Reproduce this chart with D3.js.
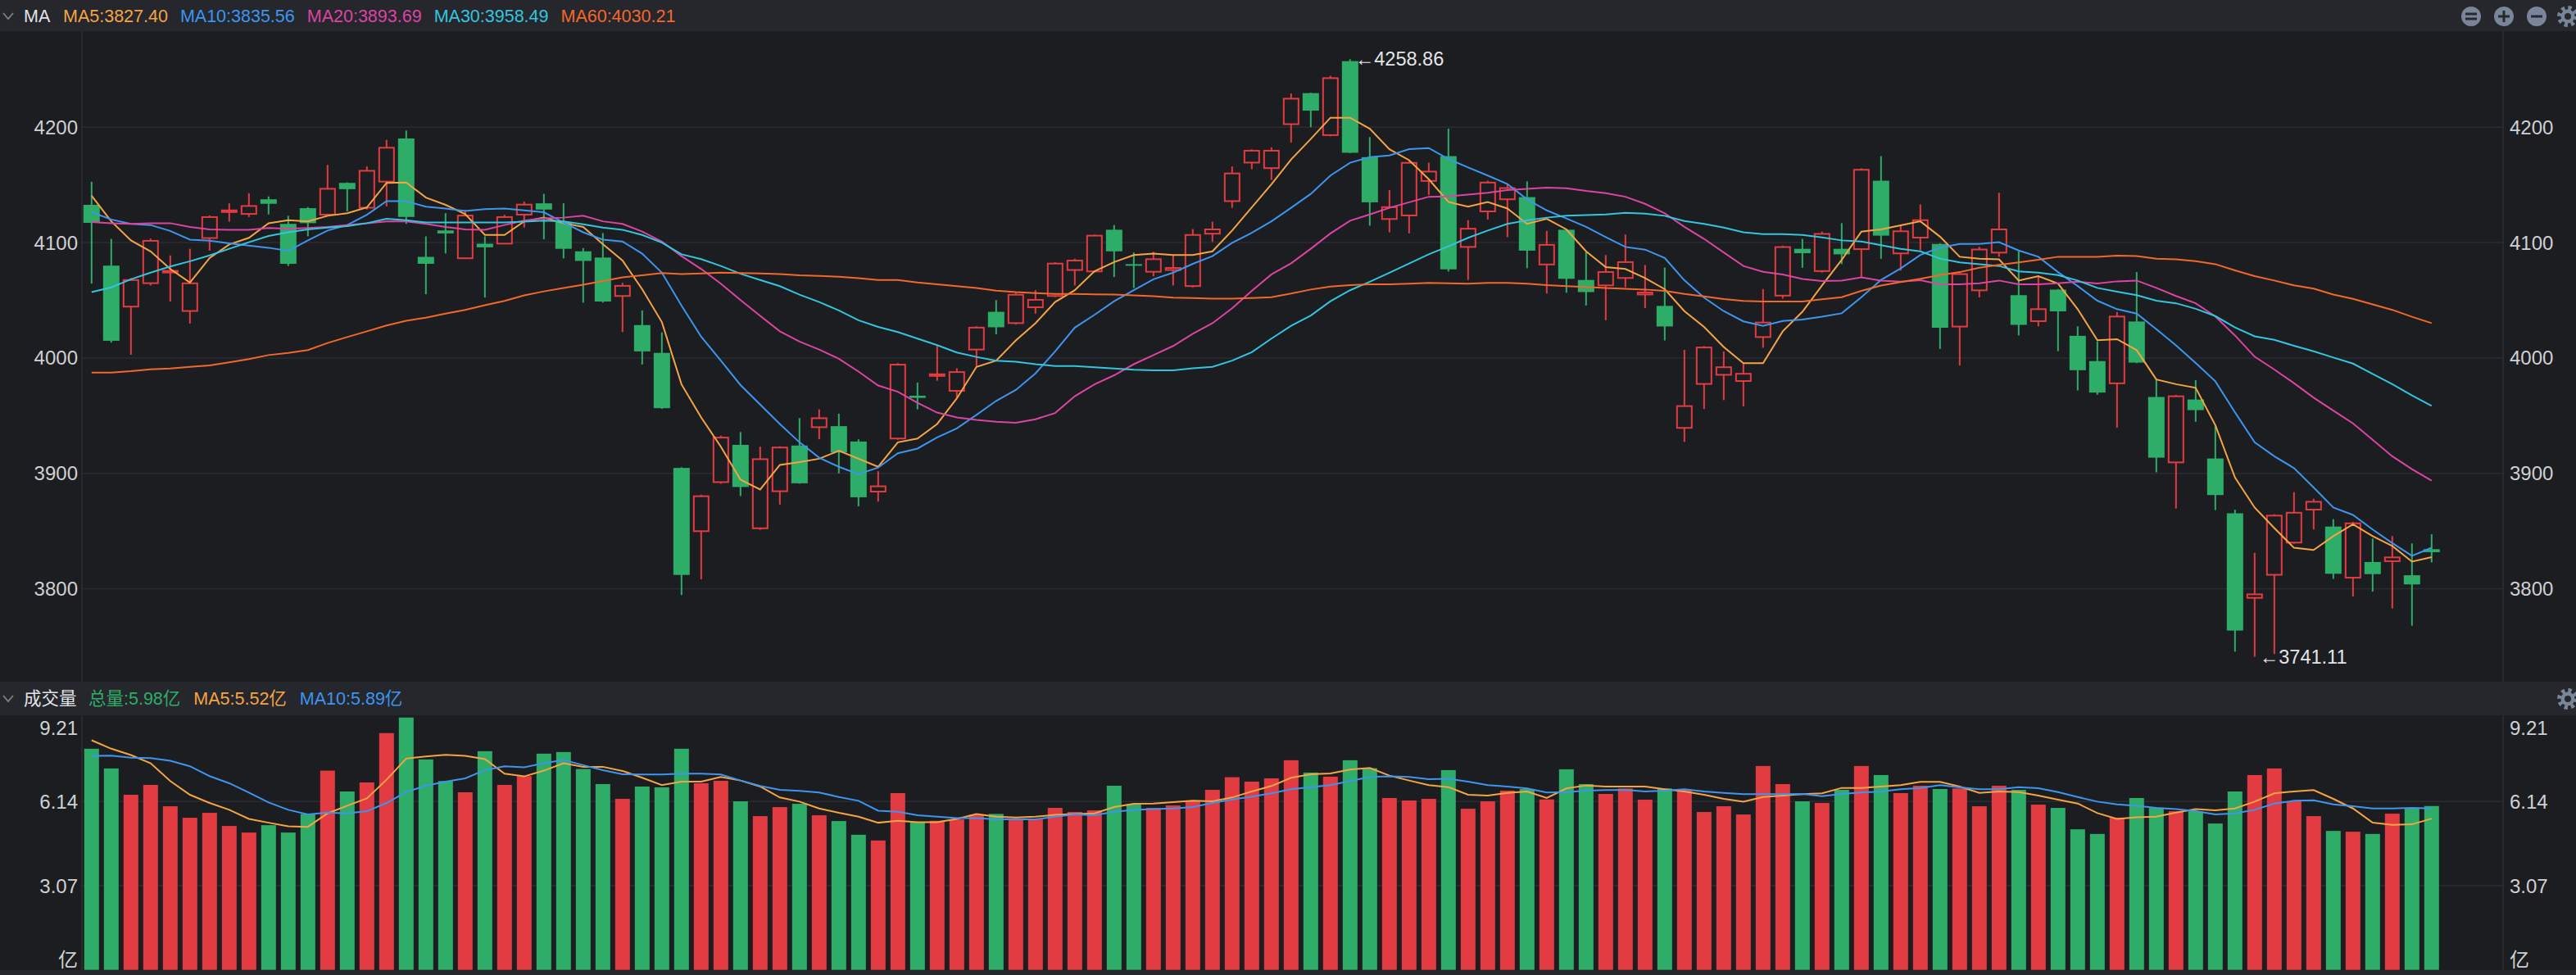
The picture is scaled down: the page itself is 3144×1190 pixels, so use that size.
<!DOCTYPE html>
<html>
<head>
<meta charset="utf-8">
<script src="https://cdn.jsdelivr.net/npm/d3@7"></script>
<style>
  html, body { margin: 0; padding: 0; background: #1c1d21; overflow: hidden; }
  svg { display: block; }
</style>
</head>
<body>
<div id="chart"></div>
<script>
// daily candles
const opens = [
  4132.7, 4080.0, 4043.8, 4064.1, 4074.9, 4040.0, 4103.2, 4127.6, 4124.1, 4137.5,
  4116.2, 4129.8, 4123.5, 4151.7, 4129.5, 4152.1, 4190.2, 4087.6, 4110.5, 4085.7,
  4099.0, 4098.4, 4123.5, 4134.0, 4117.8, 4092.4, 4087.0, 4053.0, 4028.5, 4004.4,
  3904.7, 3849.2, 3891.7, 3924.7, 3851.7, 3883.8, 3924.1, 3939.3, 3940.9, 3927.6,
  3883.5, 3929.5, 3967.3, 3985.1, 3970.8, 4006.6, 4040.0, 4029.5, 4043.2, 4053.0,
  4075.5, 4074.3, 4111.1, 4081.3, 4074.0, 4075.5, 4061.6, 4107.0, 4135.2, 4168.6,
  4163.8, 4201.9, 4229.5, 4192.4, 4257.2, 4174.0, 4119.7, 4122.8, 4152.7, 4174.9,
  4095.5, 4126.3, 4136.8, 4139.4, 4080.3, 4111.1, 4067.6, 4062.2, 4068.6, 4054.3,
  4045.1, 3938.7, 3976.8, 3984.7, 3979.3, 4017.4, 4053.3, 4094.6, 4074.6, 4094.6,
  4093.6, 4153.6, 4089.9, 4103.6, 4098.8, 4026.5, 4057.9, 4090.6, 4054.4, 4031.2,
  4059.2, 4019.2, 3997.3, 3977.3, 4031.6, 3966.2, 3908.8, 3964.0, 3912.9, 3865.4,
  3791.4, 3811.4, 3839.3, 3867.9, 3853.9, 3808.9, 3823.2, 3823.2, 3811.7, 3834.3
];
const highs = [
  4152.7, 4103.2, 4069.2, 4103.5, 4088.9, 4094.6, 4123.5, 4134.0, 4142.8, 4140.0,
  4123.2, 4130.8, 4167.3, 4152.2, 4166.0, 4188.9, 4197.1, 4105.4, 4125.4, 4128.2,
  4105.4, 4124.1, 4135.5, 4142.2, 4134.0, 4095.2, 4108.2, 4065.1, 4041.2, 4022.2,
  3905.3, 3881.5, 3932.7, 3935.8, 3923.1, 3923.5, 3947.9, 3955.5, 3951.7, 3929.5,
  3901.9, 3995.5, 3978.7, 4010.5, 3991.1, 4027.5, 4050.1, 4056.5, 4058.7, 4083.0,
  4086.0, 4107.0, 4115.2, 4091.4, 4092.0, 4088.9, 4111.7, 4118.1, 4166.0, 4180.8,
  4182.5, 4229.2, 4230.0, 4244.5, 4258.86, 4191.4, 4145.4, 4170.3, 4169.2, 4198.7,
  4119.4, 4153.6, 4151.1, 4153.0, 4110.1, 4111.7, 4091.7, 4089.2, 4107.0, 4080.6,
  4078.4, 4007.0, 4010.3, 4005.7, 3995.5, 4059.7, 4097.3, 4103.2, 4109.5, 4116.8,
  4164.4, 4174.9, 4114.7, 4133.1, 4099.4, 4074.0, 4096.3, 4143.2, 4092.5, 4070.3,
  4059.7, 4027.4, 4014.4, 4039.8, 4074.4, 3981.4, 3968.0, 3980.8, 3940.8, 3868.5,
  3831.1, 3864.6, 3883.7, 3878.0, 3860.3, 3858.0, 3843.5, 3845.7, 3839.3, 3847.3
];
const lows = [
  4064.4, 4013.3, 4002.8, 4062.8, 4048.9, 4029.8, 4093.0, 4118.1, 4122.2, 4124.4,
  4079.7, 4105.4, 4123.2, 4127.0, 4128.6, 4131.4, 4116.2, 4055.2, 4090.5, 4085.7,
  4052.4, 4098.4, 4113.0, 4102.8, 4086.3, 4047.9, 4048.0, 4022.5, 3994.3, 3955.9,
  3794.6, 3808.2, 3891.0, 3880.3, 3851.0, 3873.0, 3891.0, 3929.5, 3900.0, 3871.4,
  3875.5, 3929.0, 3955.5, 3980.3, 3966.0, 3993.0, 4020.6, 4029.0, 4038.4, 4052.7,
  4062.8, 4074.0, 4070.1, 4060.6, 4070.8, 4062.8, 4061.0, 4100.6, 4130.1, 4163.5,
  4154.3, 4186.7, 4200.0, 4192.0, 4177.5, 4114.6, 4108.9, 4107.9, 4141.3, 4074.9,
  4067.6, 4120.0, 4104.7, 4077.8, 4055.9, 4056.5, 4045.4, 4032.7, 4061.3, 4043.2,
  4015.2, 3927.3, 3955.8, 3963.5, 3958.1, 4008.9, 4051.4, 4078.1, 4074.0, 4081.3,
  4069.8, 4086.0, 4075.7, 4093.4, 4007.8, 3993.5, 4052.5, 4087.7, 4019.5, 4027.4,
  4005.9, 3971.9, 3968.1, 3939.6, 3995.5, 3900.9, 3869.5, 3944.7, 3868.2, 3745.5,
  3741.11, 3743.5, 3839.0, 3851.4, 3808.6, 3793.3, 3797.5, 3782.9, 3768.0, 3822.8
];
const closes = [
  4117.1, 4014.9, 4068.2, 4102.2, 4076.2, 4065.4, 4122.8, 4128.6, 4132.4, 4133.6,
  4081.6, 4116.8, 4147.3, 4146.3, 4162.9, 4182.9, 4122.2, 4081.6, 4107.9, 4124.1,
  4095.9, 4122.8, 4133.6, 4128.6, 4094.6, 4084.1, 4048.9, 4063.2, 4005.7, 3956.5,
  3812.0, 3880.9, 3931.7, 3888.2, 3913.0, 3923.1, 3891.4, 3948.5, 3918.1, 3879.3,
  3889.5, 3994.9, 3965.4, 3986.6, 3988.5, 4027.0, 4026.6, 4055.5, 4051.1, 4082.5,
  4085.1, 4106.7, 4092.4, 4080.0, 4086.3, 4078.7, 4107.3, 4112.1, 4160.6, 4180.3,
  4180.3, 4225.4, 4214.3, 4243.2, 4177.8, 4134.9, 4131.4, 4169.8, 4162.2, 4076.8,
  4112.7, 4152.7, 4147.9, 4093.0, 4098.7, 4068.6, 4057.1, 4075.2, 4083.8, 4057.4,
  4027.3, 3959.0, 4009.8, 3992.7, 3987.0, 4031.4, 4096.8, 4090.8, 4108.2, 4089.8,
  4163.8, 4106.0, 4110.5, 4120.1, 4026.2, 4073.4, 4094.7, 4112.1, 4028.7, 4043.0,
  4040.4, 3989.4, 3970.0, 4036.6, 3996.0, 3913.6, 3967.5, 3954.8, 3881.2, 3763.8,
  3795.9, 3864.1, 3866.6, 3876.1, 3813.0, 3857.4, 3812.7, 3827.9, 3803.8, 3831.7
];

// moving averages of price, as drawn
const ma5 = [
  4140.6, 4118.4, 4101.9, 4092.4, 4077.1, 4065.4, 4086.6, 4098.4, 4104.1, 4116.8,
  4119.3, 4118.4, 4123.2, 4125.4, 4130.5, 4151.7, 4152.0, 4139.0, 4132.7, 4124.7,
  4106.6, 4106.6, 4118.4, 4121.6, 4116.8, 4113.6, 4098.7, 4084.4, 4059.6, 4031.1,
  3977.1, 3948.5, 3923.1, 3894.5, 3886.0, 3907.3, 3909.8, 3912.7, 3919.6, 3912.7,
  3905.7, 3926.9, 3930.1, 3942.8, 3965.0, 3992.3, 3997.7, 4015.2, 4030.1, 4048.5,
  4058.7, 4075.2, 4083.1, 4089.2, 4090.4, 4089.2, 4089.2, 4092.4, 4110.4, 4130.5,
  4150.5, 4172.0, 4189.8, 4208.2, 4208.2, 4198.7, 4180.9, 4171.4, 4154.9, 4135.2,
  4131.1, 4135.2, 4129.5, 4116.2, 4120.6, 4111.4, 4092.4, 4078.7, 4077.1, 4069.2,
  4059.6, 4040.6, 4026.9, 4009.5, 3995.5, 3995.5, 4023.1, 4040.0, 4062.8, 4085.0,
  4109.5, 4111.4, 4115.0, 4118.4, 4105.1, 4087.7, 4086.1, 4085.5, 4067.1, 4070.9,
  4064.5, 4042.3, 4015.4, 4016.3, 4006.8, 3981.4, 3977.3, 3974.1, 3941.8, 3896.4,
  3870.4, 3852.6, 3835.5, 3833.6, 3845.6, 3855.8, 3845.6, 3837.1, 3823.5, 3827.40
];
const ma10 = [
  4126.3, 4120.0, 4116.2, 4115.2, 4110.1, 4102.5, 4101.6, 4099.3, 4097.4, 4095.5,
  4092.7, 4101.9, 4110.4, 4115.2, 4124.1, 4135.9, 4135.9, 4131.1, 4129.5, 4127.3,
  4128.9, 4129.5, 4127.9, 4126.3, 4117.4, 4108.9, 4102.5, 4100.9, 4090.4, 4073.9,
  4045.4, 4018.4, 3997.7, 3976.5, 3959.6, 3942.8, 3926.9, 3913.6, 3905.7, 3899.3,
  3905.0, 3917.4, 3921.5, 3931.1, 3939.0, 3950.7, 3962.8, 3972.3, 3986.6, 4005.7,
  4026.3, 4037.4, 4049.2, 4058.7, 4068.2, 4073.9, 4081.6, 4088.2, 4099.7, 4108.5,
  4118.4, 4130.1, 4142.2, 4158.1, 4169.2, 4174.0, 4175.5, 4180.9, 4181.9, 4172.4,
  4165.1, 4158.1, 4150.8, 4137.4, 4127.9, 4120.9, 4113.6, 4104.7, 4096.2, 4093.9,
  4086.6, 4067.3, 4052.3, 4040.6, 4031.7, 4027.9, 4032.0, 4033.3, 4035.8, 4038.7,
  4052.7, 4067.6, 4077.6, 4089.3, 4095.6, 4098.8, 4098.8, 4100.4, 4093.1, 4087.7,
  4074.4, 4062.3, 4049.6, 4042.3, 4038.5, 4024.9, 4010.9, 3995.7, 3979.8, 3952.9,
  3926.9, 3914.8, 3904.6, 3887.8, 3870.4, 3864.0, 3851.4, 3839.6, 3828.5, 3835.56
];
const ma20 = [
  4117.8, 4116.8, 4116.2, 4116.8, 4116.8, 4113.6, 4111.4, 4111.1, 4111.1, 4112.7,
  4112.0, 4112.7, 4113.6, 4115.2, 4116.8, 4118.4, 4118.4, 4116.2, 4113.6, 4111.4,
  4111.1, 4115.2, 4119.0, 4120.9, 4121.6, 4123.2, 4118.4, 4116.2, 4109.5, 4100.9,
  4088.2, 4077.1, 4064.4, 4050.1, 4036.5, 4023.1, 4014.2, 4007.3, 3999.3, 3988.2,
  3976.1, 3970.7, 3961.2, 3952.7, 3948.5, 3946.3, 3944.7, 3943.8, 3946.9, 3952.3,
  3966.9, 3977.1, 3985.0, 3994.6, 4002.5, 4010.4, 4020.9, 4030.1, 4043.1, 4058.1,
  4072.4, 4082.0, 4094.6, 4107.9, 4119.0, 4124.4, 4130.1, 4134.9, 4139.7, 4140.0,
  4141.6, 4143.2, 4145.4, 4146.6, 4147.6, 4147.0, 4144.7, 4142.8, 4139.7, 4133.6,
  4125.4, 4113.6, 4103.2, 4091.4, 4079.7, 4074.6, 4072.4, 4068.5, 4066.6, 4067.0,
  4069.8, 4067.0, 4066.2, 4067.4, 4063.9, 4063.9, 4064.8, 4067.1, 4063.9, 4063.9,
  4064.8, 4066.1, 4064.5, 4066.4, 4067.1, 4060.7, 4053.7, 4047.4, 4036.0, 4019.5,
  4001.1, 3990.0, 3978.2, 3965.6, 3954.4, 3943.3, 3929.1, 3914.8, 3903.7, 3893.69
];
const ma30 = [
  4057.1, 4061.2, 4068.2, 4073.9, 4079.3, 4083.8, 4088.9, 4094.6, 4100.3, 4105.7,
  4108.9, 4111.4, 4113.0, 4114.3, 4116.8, 4120.6, 4119.3, 4117.4, 4117.4, 4117.4,
  4117.4, 4117.4, 4118.1, 4119.0, 4118.4, 4115.8, 4113.0, 4111.1, 4106.6, 4100.0,
  4089.8, 4085.7, 4079.7, 4073.0, 4067.6, 4062.2, 4054.9, 4048.5, 4041.2, 4032.7,
  4026.9, 4022.5, 4016.8, 4011.1, 4004.7, 4000.9, 3997.7, 3996.8, 3994.6, 3993.0,
  3993.0, 3992.0, 3990.8, 3989.8, 3989.2, 3989.2, 3991.1, 3992.3, 3997.7, 4005.0,
  4016.8, 4027.9, 4036.8, 4049.2, 4058.7, 4066.0, 4073.9, 4081.9, 4089.8, 4096.8,
  4104.1, 4110.4, 4116.2, 4119.3, 4121.6, 4123.2, 4123.8, 4124.4, 4125.7, 4125.1,
  4123.2, 4118.7, 4116.2, 4113.0, 4108.9, 4107.3, 4107.3, 4106.6, 4104.4, 4101.9,
  4100.9, 4097.8, 4094.5, 4092.4, 4086.1, 4082.9, 4081.3, 4079.7, 4075.0, 4074.0,
  4071.8, 4067.1, 4060.7, 4057.5, 4054.4, 4049.6, 4047.4, 4042.6, 4036.3, 4026.5,
  4018.8, 4015.7, 4010.6, 4005.8, 4000.4, 3995.1, 3986.2, 3977.3, 3967.5, 3958.49
];
const ma60 = [
  3987.3, 3987.3, 3988.5, 3990.1, 3990.8, 3992.3, 3993.6, 3996.2, 3999.0, 4002.5,
  4004.4, 4006.9, 4013.0, 4018.1, 4023.1, 4028.2, 4032.3, 4034.9, 4038.4, 4041.6,
  4045.7, 4049.5, 4054.3, 4057.7, 4060.6, 4063.5, 4066.6, 4069.8, 4071.7, 4073.6,
  4072.7, 4073.3, 4073.9, 4073.6, 4073.3, 4072.7, 4071.7, 4071.1, 4070.4, 4069.2,
  4067.6, 4067.6, 4065.4, 4063.8, 4062.2, 4060.6, 4058.4, 4057.1, 4056.2, 4055.5,
  4055.5, 4055.2, 4054.9, 4054.3, 4053.6, 4052.3, 4052.0, 4051.4, 4051.4, 4052.0,
  4052.7, 4055.8, 4059.3, 4061.9, 4063.1, 4063.8, 4063.8, 4064.4, 4065.0, 4064.7,
  4064.4, 4065.0, 4065.0, 4064.4, 4063.1, 4062.2, 4061.6, 4060.6, 4060.0, 4059.3,
  4058.1, 4055.5, 4053.3, 4051.1, 4049.5, 4048.9, 4048.9, 4048.9, 4050.8, 4052.7,
  4058.1, 4062.8, 4065.8, 4068.6, 4071.8, 4074.4, 4078.2, 4080.7, 4082.9, 4085.1,
  4087.7, 4087.7, 4087.7, 4088.6, 4088.3, 4086.1, 4085.5, 4083.9, 4081.3, 4075.9,
  4070.9, 4067.1, 4062.9, 4060.1, 4055.0, 4051.2, 4046.4, 4041.7, 4035.7, 4030.21
];

// volume in 亿
const volumes = [
  8.07, 7.35, 6.39, 6.75, 5.97, 5.55, 5.73, 5.25, 5.01, 5.28,
  5.01, 5.69, 7.27, 6.51, 6.84, 8.64, 9.21, 7.68, 6.89, 6.48,
  7.98, 6.75, 7.07, 7.89, 7.95, 7.33, 6.78, 6.24, 6.69, 6.66,
  8.07, 6.81, 6.90, 6.15, 5.61, 5.94, 6.06, 5.64, 5.43, 4.93,
  4.72, 6.45, 5.39, 5.44, 5.49, 5.66, 5.69, 5.49, 5.49, 5.91,
  5.76, 5.82, 6.72, 6.04, 5.91, 6.00, 6.17, 6.57, 7.03, 6.87,
  6.99, 7.65, 7.20, 7.05, 7.65, 7.36, 6.27, 6.18, 6.24, 7.29,
  5.88, 6.15, 6.54, 6.60, 6.22, 7.32, 6.78, 6.42, 6.62, 6.21,
  6.62, 6.57, 5.76, 5.97, 5.67, 7.44, 6.78, 6.15, 6.09, 6.57,
  7.44, 7.11, 6.45, 6.72, 6.60, 6.62, 5.97, 6.72, 6.57, 6.03,
  5.91, 5.13, 4.96, 5.55, 6.27, 5.91, 5.79, 5.79, 5.34, 6.51,
  7.11, 7.35, 6.15, 5.61, 5.07, 5.04, 4.96, 5.70, 5.91, 5.98
];
const volMa5 = [
  8.38, 8.07, 7.84, 7.54, 6.89, 6.39, 6.09, 5.84, 5.51, 5.37,
  5.24, 5.22, 5.71, 5.99, 6.26, 6.94, 7.71, 7.79, 7.85, 7.81,
  7.69, 7.16, 7.06, 7.27, 7.54, 7.41, 7.41, 7.26, 7.01, 6.74,
  6.87, 6.87, 7.04, 6.91, 6.69, 6.29, 6.14, 5.89, 5.73, 5.59,
  5.37, 5.44, 5.39, 5.39, 5.51, 5.69, 5.59, 5.56, 5.59, 5.66,
  5.69, 5.71, 5.94, 6.06, 6.07, 6.12, 6.17, 6.15, 6.29, 6.51,
  6.71, 7.01, 7.14, 7.17, 7.31, 7.37, 7.09, 6.91, 6.74, 6.67,
  6.39, 6.36, 6.46, 6.51, 6.27, 6.62, 6.73, 6.69, 6.69, 6.69,
  6.59, 6.51, 6.39, 6.24, 6.14, 6.31, 6.36, 6.41, 6.44, 6.64,
  6.64, 6.69, 6.74, 6.86, 6.86, 6.69, 6.46, 6.51, 6.49, 6.36,
  6.21, 6.07, 5.72, 5.51, 5.57, 5.59, 5.74, 5.87, 5.82, 5.89,
  6.14, 6.44, 6.51, 6.56, 6.24, 5.89, 5.37, 5.29, 5.31, 5.52
];
const volMa10 = [
  7.81, 7.82, 7.74, 7.73, 7.63, 7.43, 7.07, 6.81, 6.47, 6.11,
  5.84, 5.67, 5.74, 5.71, 5.79, 6.09, 6.49, 6.72, 6.87, 6.99,
  7.29, 7.43, 7.39, 7.54, 7.66, 7.47, 7.29, 7.14, 7.13, 7.13,
  7.16, 7.16, 7.13, 6.91, 6.71, 6.57, 6.53, 6.47, 6.31, 6.17,
  5.81, 5.77, 5.64, 5.59, 5.54, 5.54, 5.49, 5.49, 5.49, 5.59,
  5.67, 5.64, 5.77, 5.84, 5.87, 5.89, 5.94, 6.09, 6.22, 6.32,
  6.44, 6.59, 6.67, 6.74, 6.89, 7.04, 7.06, 7.04, 6.96, 6.97,
  6.87, 6.74, 6.69, 6.62, 6.47, 6.49, 6.54, 6.56, 6.57, 6.51,
  6.54, 6.59, 6.51, 6.46, 6.41, 6.41, 6.41, 6.42, 6.34, 6.42,
  6.47, 6.51, 6.59, 6.64, 6.74, 6.66, 6.59, 6.59, 6.67, 6.63,
  6.49, 6.31, 6.14, 6.04, 5.99, 5.91, 5.87, 5.79, 5.67, 5.71,
  5.84, 6.07, 6.17, 6.19, 6.04, 5.97, 5.89, 5.89, 5.91, 5.89
];

const priceTicks = [3800, 3900, 4000, 4100, 4200];
const volTicks = [0, 3.07, 6.14, 9.21];

const priceLines = [
  { name: "MA5", values: ma5 },
  { name: "MA10", values: ma10 },
  { name: "MA20", values: ma20 },
  { name: "MA30", values: ma30 },
  { name: "MA60", values: ma60 }
];
const volLines = [
  { name: "MA5", values: volMa5 },
  { name: "MA10", values: volMa10 }
];

// ---- styles ----
const colors = {
  bg: "#1c1d21", header: "#25272d", grid: "#2a2c32", sep: "#2c2f36",
  up: "#e23c42", down: "#2ead68", text: "#cfd0d4", title: "#e2e3e6",
  icon: "#7b859a", iconInk: "#262930",
  MA5: "#f5a444", MA10: "#3d95ee", MA20: "#dc44a2", MA30: "#34c5de", MA60: "#f2682c"
};
const FONT = "'Liberation Sans', Arial, 'Noto Sans CJK SC', sans-serif";

const W = 3144, H = 1190;
const left = 100, right = 3055;
const mainTop = 38, mainBottom = 832;
const volTop = 873, volBottom = 1184;
const n = closes.length;

const svg = d3.select("#chart").append("svg")
  .attr("width", W).attr("height", H)
  .style("font-family", FONT);

svg.append("rect").attr("width", W).attr("height", H).attr("fill", colors.bg);

// header strips
[[0, mainTop], [mainBottom, volTop], [volBottom, H]].forEach(([a, b]) => {
  svg.append("rect").attr("x", 0).attr("y", a).attr("width", W).attr("height", b - a)
    .attr("fill", colors.header);
});

const x = d3.scaleBand().domain(d3.range(n)).range([99.8, 99.8 + n * 24]);
const cx = i => x(i) + x.bandwidth() / 2;

const y = d3.scaleLinear().domain([3800, 4200]).range([718.6, 155.2]);
const yv = d3.scaleLinear().domain([0, 9.21]).range([1183.7, 875.7]);

// clip paths
const defs = svg.append("defs");
defs.append("clipPath").attr("id", "clipMain").append("rect")
  .attr("x", left).attr("y", mainTop).attr("width", right - left).attr("height", mainBottom - mainTop);
defs.append("clipPath").attr("id", "clipVol").append("rect")
  .attr("x", left).attr("y", volTop).attr("width", right - left).attr("height", volBottom - volTop);

// grid lines
svg.append("g").selectAll("line").data(priceTicks).join("line")
  .attr("x1", left).attr("x2", right)
  .attr("y1", d => y(d)).attr("y2", d => y(d))
  .attr("stroke", colors.grid).attr("stroke-width", 1.5);

svg.append("g").selectAll("line").data(volTicks.filter(d => d > 0 && d < 9.21)).join("line")
  .attr("x1", left).attr("x2", right)
  .attr("y1", d => yv(d)).attr("y2", d => yv(d))
  .attr("stroke", colors.grid).attr("stroke-width", 1.5);

// pane separators
[left, right].forEach(px => {
  svg.append("line").attr("x1", px).attr("x2", px).attr("y1", mainTop).attr("y2", mainBottom)
    .attr("stroke", colors.sep).attr("stroke-width", 1.5);
  svg.append("line").attr("x1", px).attr("x2", px).attr("y1", volTop).attr("y2", volBottom)
    .attr("stroke", colors.sep).attr("stroke-width", 1.5);
});

// axis labels
const priceLabels = svg.append("g").attr("fill", colors.text).attr("font-size", 24);
priceTicks.forEach(t => {
  priceLabels.append("text").attr("x", 95).attr("y", y(t)).attr("text-anchor", "end")
    .attr("dominant-baseline", "central").text(t);
  priceLabels.append("text").attr("x", 3063).attr("y", y(t)).attr("text-anchor", "start")
    .attr("dominant-baseline", "central").text(t);
});

const volLabels = svg.append("g").attr("fill", colors.text).attr("font-size", 24);
volTicks.forEach(t => {
  const ty = Math.max(888, Math.min(1171, yv(t)));
  const label = t === 0 ? "亿" : t.toFixed(2);
  volLabels.append("text").attr("x", 95).attr("y", ty).attr("text-anchor", "end")
    .attr("dominant-baseline", "central").text(label);
  volLabels.append("text").attr("x", 3063).attr("y", ty).attr("text-anchor", "start")
    .attr("dominant-baseline", "central").text(label);
});

// candles
const main = svg.append("g").attr("clip-path", "url(#clipMain)");
const isUp = i => closes[i] >= opens[i];

const candle = main.selectAll("g.candle").data(d3.range(n)).join("g").attr("class", "candle");
candle.append("line")
  .attr("x1", cx).attr("x2", cx)
  .attr("y1", i => y(highs[i])).attr("y2", i => y(lows[i]))
  .attr("stroke", i => isUp(i) ? colors.up : colors.down)
  .attr("stroke-width", 2);
candle.append("rect")
  .attr("x", i => isUp(i) ? x(i) + 3 : x(i) + 2)
  .attr("width", i => isUp(i) ? 18 : 20)
  .attr("y", i => {
    const top = y(Math.max(opens[i], closes[i]));
    return isUp(i) ? top + 1 : top;
  })
  .attr("height", i => {
    const h = Math.abs(y(opens[i]) - y(closes[i]));
    return isUp(i) ? Math.max(h - 2, 2) : Math.max(h, 2);
  })
  .attr("fill", i => isUp(i) ? colors.bg : colors.down)
  .attr("stroke", i => isUp(i) ? colors.up : "none")
  .attr("stroke-width", 2);

// moving average lines
const priceLine = d3.line().x((d, i) => cx(i)).y(d => y(d));
main.selectAll("path.ma").data(priceLines).join("path")
  .attr("class", "ma")
  .attr("fill", "none")
  .attr("stroke", d => colors[d.name])
  .attr("stroke-width", 2)
  .attr("d", d => priceLine(d.values));

// extreme labels
const iMax = d3.maxIndex(highs), iMin = d3.minIndex(lows);
[[iMax, highs[iMax]], [iMin, lows[iMin]]].forEach(([i, v]) => {
  svg.append("text")
    .attr("x", cx(i) + 6).attr("y", y(v))
    .attr("dominant-baseline", "central")
    .attr("fill", "#e4e5e8").attr("font-size", 23.5)
    .text("←" + v.toFixed(2));
});

// volume bars
const vol = svg.append("g").attr("clip-path", "url(#clipVol)");
vol.selectAll("rect").data(volumes).join("rect")
  .attr("x", (d, i) => x(i) + 3)
  .attr("width", 18)
  .attr("y", d => yv(d))
  .attr("height", d => yv(0) - yv(d))
  .attr("fill", (d, i) => isUp(i) ? colors.up : colors.down);

const volLine = d3.line().x((d, i) => cx(i)).y(d => yv(d));
vol.selectAll("path.vma").data(volLines).join("path")
  .attr("class", "vma")
  .attr("fill", "none")
  .attr("stroke", d => colors[d.name])
  .attr("stroke-width", 2)
  .attr("d", d => volLine(d.values));

// header legends
function chevron(cy) {
  svg.append("path")
    .attr("d", `M4,${cy - 4} L10,${cy + 3} L16,${cy - 4}`)
    .attr("fill", "none").attr("stroke", "#7a808c").attr("stroke-width", 1.8);
}

function legendRow(cy, title, items, startX, gap) {
  chevron(cy);
  svg.append("text").attr("x", 29).attr("y", cy).attr("dominant-baseline", "central")
    .attr("font-size", 21.5).attr("fill", colors.title).text(title);
  let px = startX;
  items.forEach(it => {
    const t = svg.append("text").attr("x", px).attr("y", cy)
      .attr("dominant-baseline", "central")
      .attr("font-size", 21.5).attr("fill", it.color).text(it.text);
    px += t.node().getComputedTextLength() + gap;
  });
}

legendRow(20, "MA",
  priceLines.map(l => ({ text: `${l.name}:${l.values[n - 1].toFixed(2)}`, color: colors[l.name] })),
  77, 15);

legendRow(853, "成交量", [
  { text: `总量:${volumes[n - 1].toFixed(2)}亿`, color: colors.down },
  ...volLines.map(l => ({ text: `${l.name}:${l.values[n - 1].toFixed(2)}亿`, color: colors[l.name] }))
], 108, 16);

// header icons
function roundIcon(px, cy, kind) {
  svg.append("circle").attr("cx", px).attr("cy", cy).attr("r", 12).attr("fill", colors.icon);
  const g = svg.append("g").attr("stroke", colors.iconInk).attr("stroke-width", 3);
  if (kind === "eq") {
    g.append("line").attr("x1", px - 7).attr("x2", px + 7).attr("y1", cy - 3).attr("y2", cy - 3);
    g.append("line").attr("x1", px - 7).attr("x2", px + 7).attr("y1", cy + 3).attr("y2", cy + 3);
  } else {
    g.append("line").attr("x1", px - 7).attr("x2", px + 7).attr("y1", cy).attr("y2", cy);
    if (kind === "plus") g.append("line").attr("x1", px).attr("x2", px).attr("y1", cy - 7).attr("y2", cy + 7);
  }
}
function gear(px, cy) {
  svg.append("circle").attr("cx", px).attr("cy", cy).attr("r", 10.5)
    .attr("fill", "none").attr("stroke", colors.icon).attr("stroke-width", 5)
    .attr("stroke-dasharray", "4.2 4.05");
  svg.append("circle").attr("cx", px).attr("cy", cy).attr("r", 8.5).attr("fill", colors.icon);
  svg.append("circle").attr("cx", px).attr("cy", cy).attr("r", 4).attr("fill", colors.header);
}
roundIcon(3016, 20, "eq");
roundIcon(3056, 20, "plus");
roundIcon(3096, 20, "minus");
gear(3134, 20);
gear(3134, 853);
</script>
</body>
</html>
